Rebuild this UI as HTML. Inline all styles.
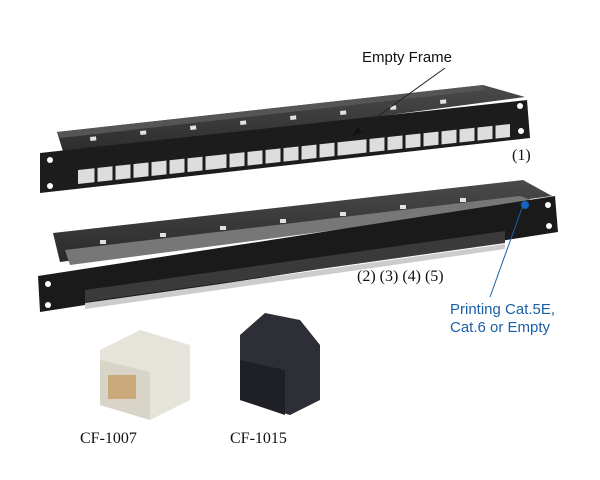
<!DOCTYPE html>
<html><head><style>
html,body{margin:0;padding:0;background:#fff;}
svg{display:block}
</style></head><body>
<svg width="600" height="480" viewBox="0 0 600 480" xmlns="http://www.w3.org/2000/svg">
<defs>
<linearGradient id="tray" x1="0" y1="0" x2="0" y2="1"><stop offset="0" stop-color="#4a4a4a"/><stop offset="1" stop-color="#2a2a2a"/></linearGradient>
</defs>
<!-- Panel 1 -->
<polygon points="57,132 483,85 525,97 65,158" fill="url(#tray)"/>
<polygon points="57,132 483,85 485,90 60,138" fill="#555"/>
<g fill="#fff" opacity="0.85">
<rect x="90" y="137" width="6" height="4" transform="rotate(-6 90 137)"/>
<rect x="140" y="131" width="6" height="4" transform="rotate(-6 140 131)"/>
<rect x="190" y="126" width="6" height="4" transform="rotate(-6 190 126)"/>
<rect x="240" y="121" width="6" height="4" transform="rotate(-6 240 121)"/>
<rect x="290" y="116" width="6" height="4" transform="rotate(-6 290 116)"/>
<rect x="340" y="111" width="6" height="4" transform="rotate(-6 340 111)"/>
<rect x="390" y="106" width="6" height="4" transform="rotate(-6 390 106)"/>
<rect x="440" y="100" width="6" height="4" transform="rotate(-6 440 100)"/>
</g>
<polygon points="40,153 527,100 530,138 40,193" fill="#1c1c1c"/>
<circle cx="50" cy="160" r="3" fill="#fff"/><circle cx="50" cy="186" r="3" fill="#fff"/>
<circle cx="520" cy="106" r="3" fill="#fff"/><circle cx="521" cy="131" r="3" fill="#fff"/>
<polygon points="78,170 510,124 510,137 78,184" fill="#ddd"/>
<g stroke="#1c1c1c" stroke-width="3">
<line x1="96" y1="168" x2="96" y2="184"/><line x1="114" y1="166" x2="114" y2="182"/><line x1="132" y1="164" x2="132" y2="180"/><line x1="150" y1="162" x2="150" y2="178"/><line x1="168" y1="160" x2="168" y2="176"/><line x1="186" y1="158" x2="186" y2="174"/><line x1="204" y1="156" x2="204" y2="172"/><line x1="228" y1="154" x2="228" y2="170"/><line x1="246" y1="152" x2="246" y2="168"/><line x1="264" y1="150" x2="264" y2="166"/><line x1="282" y1="148" x2="282" y2="164"/><line x1="300" y1="146" x2="300" y2="162"/><line x1="318" y1="144" x2="318" y2="160"/><line x1="336" y1="142" x2="336" y2="158"/><line x1="368" y1="138" x2="368" y2="154"/><line x1="386" y1="136" x2="386" y2="152"/><line x1="404" y1="134" x2="404" y2="150"/><line x1="422" y1="132" x2="422" y2="148"/><line x1="440" y1="130" x2="440" y2="146"/><line x1="458" y1="128" x2="458" y2="144"/><line x1="476" y1="126" x2="476" y2="142"/><line x1="494" y1="124" x2="494" y2="140"/>
</g>
<!-- Panel 2 -->
<polygon points="53,233 523,180 552,196 60,262" fill="url(#tray)"/>
<polygon points="65,250 520,196 540,203 70,265" fill="#777"/>
<g fill="#fff" opacity="0.85">
<rect x="100" y="240" width="6" height="4"/><rect x="160" y="233" width="6" height="4"/><rect x="220" y="226" width="6" height="4"/><rect x="280" y="219" width="6" height="4"/><rect x="340" y="212" width="6" height="4"/><rect x="400" y="205" width="6" height="4"/><rect x="460" y="198" width="6" height="4"/>
</g>
<polygon points="38,276 555,196 558,232 40,312" fill="#1a1a1a"/>
<circle cx="48" cy="284" r="3" fill="#fff"/><circle cx="48" cy="305" r="3" fill="#fff"/>
<circle cx="548" cy="205" r="3" fill="#fff"/><circle cx="549" cy="226" r="3" fill="#fff"/>
<polygon points="85,303 505,244 505,249 85,309" fill="#ccc"/>
<g fill="#3a3a3a">
<polygon points="85,290 505,231 505,243 85,302"/>
</g>
<circle cx="525" cy="205" r="4" fill="#1565c0"/>
<!-- Jacks -->
<polygon points="100,350 140,330 190,345 190,400 150,420 100,405" fill="#e6e3da"/>
<polygon points="100,360 150,372 150,420 100,405" fill="#d8d4c8"/>
<rect x="108" y="375" width="28" height="24" fill="#c9a97a"/>
<polygon points="240,335 265,313 300,320 320,345 320,400 290,415 240,400" fill="#2e2f36"/>
<polygon points="240,360 285,370 285,415 240,400" fill="#1f2026"/>
<!-- Labels -->
<g font-family="Liberation Sans, sans-serif" font-size="15">
<text x="362" y="62" fill="#111">Empty Frame</text>
<text x="450" y="314" fill="#1a5fa8">Printing Cat.5E,</text>
<text x="450" y="332" fill="#1a5fa8">Cat.6 or Empty</text>
</g>
<g font-family="Liberation Serif, serif" font-size="16" fill="#111">
<text x="512" y="160">(1)</text>
<text x="357" y="281">(2) (3) (4) (5)</text>
<text x="80" y="443">CF-1007</text>
<text x="230" y="443">CF-1015</text>
</g>
<line x1="445" y1="68" x2="356" y2="132" stroke="#222" stroke-width="1"/>
<polygon points="352,136 358,127 362,132" fill="#111"/>
<line x1="522" y1="208" x2="490" y2="297" stroke="#1a5fa8" stroke-width="1"/>
</svg>
</body></html>
